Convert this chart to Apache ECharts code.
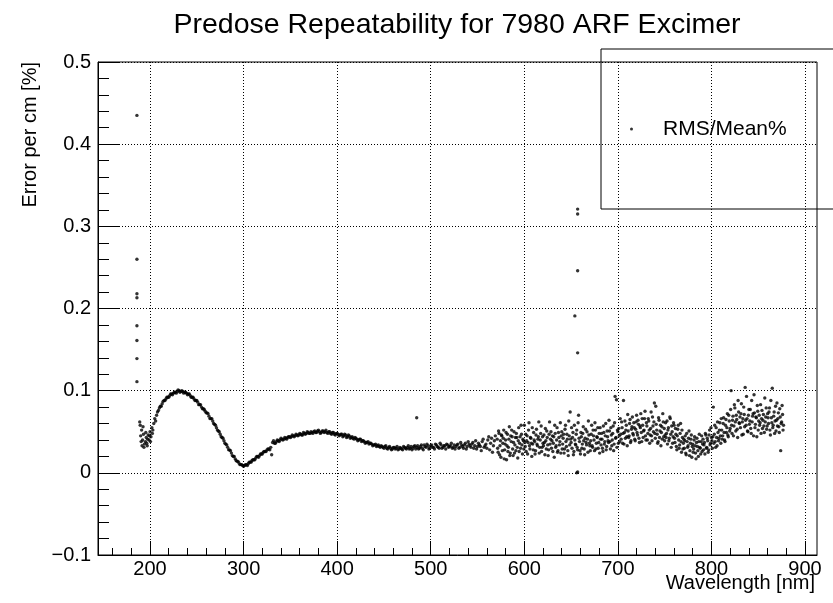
<!DOCTYPE html>
<html>
<head>
<meta charset="utf-8">
<title>Predose Repeatability</title>
<script src="https://cdn.jsdelivr.net/npm/echarts@6/dist/echarts.min.js"></script>
<style>
  html, body { margin: 0; background: #fff; }
  #chart { width: 833px; height: 603px; }
</style>
</head>
<body>
<div id="chart"></div>
<script>
"use strict";

const FONT = "Liberation Sans, Arial, Helvetica, sans-serif";

// axis ranges / ticks (wavelength in nm, error in %)
const X_MIN = 144.4, X_MAX = 912.8;
const X_MAJOR = [200, 300, 400, 500, 600, 700, 800, 900];
const X_MINOR = [160, 180, 220, 240, 260, 280, 320, 340, 360, 380, 420, 440, 460, 480,
  520, 540, 560, 580, 620, 640, 660, 680, 720, 740, 760, 780, 820, 840, 860, 880, 900];

// isolated points (edge spikes near 186 nm and 657 nm, zeros, one stray)
const spikes = [
  [186, 0.435], [186, 0.260], [186, 0.218], [186, 0.213], [186, 0.179], [186, 0.161],
  [186, 0.139], [186, 0.111],
  [657, 0.321], [657, 0.315], [657, 0.246], [654, 0.191], [657, 0.146],
  [656, 0.000], [657, 0.001], [485, 0.067],
];

// smooth part of the curve, 189..569 nm (odd wavelengths)
const band = [
  [189, 0.062], [190, 0.045], [191, 0.052], [192, 0.040], [193, 0.047], [194, 0.035],
  [195, 0.038], [196, 0.043], [197, 0.033], [198, 0.046], [199, 0.040], [200, 0.050],
  [201, 0.044], [202, 0.055], [203, 0.052], [204, 0.060], [205, 0.066], [206, 0.063],
  [207, 0.070], [209, 0.076], [211, 0.081], [213, 0.084], [215, 0.088], [217, 0.090],
  [219, 0.092], [221, 0.094], [223, 0.096], [225, 0.097], [227, 0.098], [229, 0.099],
  [231, 0.100], [233, 0.099], [235, 0.099], [237, 0.098], [239, 0.097], [241, 0.096],
  [243, 0.094], [245, 0.092], [247, 0.090], [249, 0.088], [251, 0.086], [253, 0.083],
  [255, 0.080], [257, 0.078], [259, 0.075], [261, 0.073], [263, 0.069], [265, 0.066],
  [267, 0.063], [269, 0.059], [271, 0.055], [273, 0.051], [275, 0.047], [277, 0.043],
  [279, 0.039], [281, 0.035], [283, 0.031], [285, 0.028], [287, 0.024], [289, 0.020],
  [291, 0.017], [293, 0.014], [295, 0.012], [297, 0.010], [299, 0.009], [301, 0.009],
  [303, 0.010], [305, 0.011], [307, 0.013], [309, 0.015], [311, 0.016], [313, 0.018],
  [315, 0.020], [317, 0.021], [319, 0.023], [321, 0.025], [323, 0.026], [325, 0.028],
  [327, 0.029], [329, 0.031], [330, 0.022], [331, 0.037], [333, 0.036], [335, 0.038],
  [337, 0.039], [339, 0.040], [341, 0.041], [343, 0.041], [345, 0.042], [347, 0.043],
  [349, 0.044], [351, 0.044], [353, 0.045], [355, 0.045], [357, 0.046], [359, 0.046],
  [361, 0.047], [363, 0.046], [365, 0.048], [367, 0.048], [369, 0.049], [371, 0.048],
  [373, 0.049], [375, 0.050], [377, 0.049], [379, 0.051], [381, 0.050], [383, 0.049],
  [385, 0.051], [387, 0.050], [389, 0.049], [391, 0.050], [393, 0.048], [395, 0.049],
  [397, 0.047], [399, 0.048], [401, 0.047], [403, 0.046], [405, 0.047], [407, 0.045],
  [409, 0.046], [411, 0.044], [413, 0.045], [415, 0.043], [417, 0.042], [419, 0.043],
  [421, 0.041], [423, 0.040], [425, 0.041], [427, 0.039], [429, 0.038], [431, 0.037],
  [433, 0.038], [435, 0.036], [437, 0.035], [439, 0.034], [441, 0.035], [443, 0.033],
  [445, 0.032], [447, 0.033], [449, 0.031], [451, 0.032], [453, 0.030], [455, 0.031],
  [457, 0.030], [459, 0.029], [461, 0.031], [463, 0.030], [465, 0.028], [467, 0.031],
  [469, 0.029], [471, 0.032], [473, 0.030], [475, 0.031], [477, 0.029], [479, 0.032],
  [481, 0.030], [483, 0.033], [485, 0.031], [487, 0.029], [489, 0.032], [491, 0.030],
  [493, 0.034], [495, 0.031], [497, 0.033], [499, 0.030], [501, 0.034], [503, 0.031],
  [505, 0.035], [507, 0.032], [509, 0.030], [511, 0.034], [513, 0.031], [515, 0.033],
  [517, 0.035], [519, 0.031], [521, 0.033], [523, 0.030], [525, 0.034], [527, 0.032],
  [529, 0.035], [531, 0.031], [533, 0.034], [535, 0.030], [537, 0.036], [539, 0.032],
  [541, 0.035], [543, 0.031], [545, 0.037], [547, 0.033], [549, 0.029], [551, 0.036],
  [553, 0.032], [555, 0.038], [557, 0.031], [559, 0.035], [561, 0.040], [563, 0.028],
  [565, 0.042], [567, 0.033], [569, 0.045],
];

// second scan of the smooth part (even wavelengths), slightly different readings
const band2 = [
  [189.5, 0.058], [190.5, 0.038], [191.5, 0.033], [192.5, 0.056], [193.5, 0.031],
  [195.5, 0.049], [196.5, 0.036], [197.5, 0.041], [199.5, 0.045], [200.5, 0.038], [202.5, 0.048],
  [208, 0.074], [210, 0.079], [212, 0.081], [214, 0.087], [216, 0.088], [218, 0.092],
  [220, 0.092], [222, 0.096], [224, 0.095], [226, 0.098], [228, 0.097], [230, 0.101],
  [232, 0.098], [234, 0.100], [236, 0.097], [238, 0.098], [240, 0.095], [242, 0.096],
  [244, 0.092], [246, 0.092], [248, 0.088], [250, 0.088], [252, 0.083], [254, 0.083],
  [256, 0.078], [258, 0.077], [260, 0.073], [262, 0.072], [264, 0.066], [266, 0.066],
  [268, 0.060], [270, 0.058], [272, 0.052], [274, 0.050], [276, 0.044], [278, 0.042],
  [280, 0.036], [282, 0.034], [284, 0.028], [286, 0.027], [288, 0.021], [290, 0.020],
  [292, 0.015], [294, 0.014], [296, 0.010], [298, 0.010], [300, 0.008], [302, 0.010],
  [304, 0.009], [306, 0.013], [308, 0.013], [310, 0.016], [312, 0.016], [314, 0.020],
  [316, 0.019], [318, 0.023], [320, 0.023], [322, 0.026], [324, 0.026], [326, 0.029],
  [328, 0.028], [332, 0.039], [334, 0.036], [336, 0.040], [338, 0.038], [340, 0.042],
  [342, 0.040], [344, 0.043], [346, 0.041], [348, 0.044], [350, 0.043], [352, 0.046],
  [354, 0.044], [356, 0.047], [358, 0.045], [360, 0.048], [362, 0.046], [364, 0.049],
  [366, 0.047], [368, 0.050], [370, 0.048], [372, 0.050], [374, 0.048], [376, 0.051],
  [378, 0.049], [380, 0.052], [382, 0.048], [384, 0.051], [386, 0.049], [388, 0.052],
  [390, 0.048], [392, 0.050], [394, 0.047], [396, 0.049], [398, 0.046], [400, 0.048],
  [402, 0.045], [404, 0.047], [406, 0.044], [408, 0.047], [410, 0.043], [412, 0.046],
  [414, 0.042], [416, 0.044], [418, 0.041], [420, 0.042], [422, 0.039], [424, 0.041],
  [426, 0.038], [428, 0.039], [430, 0.036], [432, 0.037], [434, 0.035], [436, 0.036],
  [438, 0.033], [440, 0.034], [442, 0.032], [444, 0.034], [446, 0.031], [448, 0.032],
  [450, 0.030], [452, 0.033], [454, 0.029], [456, 0.032], [458, 0.028], [460, 0.031],
  [462, 0.029], [464, 0.032], [466, 0.029], [468, 0.030], [470, 0.028], [472, 0.031],
  [474, 0.029], [476, 0.033], [478, 0.030], [480, 0.028], [482, 0.032], [484, 0.029],
  [486, 0.033], [488, 0.030], [490, 0.034], [492, 0.028], [494, 0.032], [496, 0.035],
  [498, 0.029], [500, 0.033], [502, 0.031], [504, 0.029], [506, 0.034], [508, 0.031],
  [510, 0.036], [512, 0.030], [514, 0.033], [516, 0.029], [518, 0.034], [520, 0.032],
  [522, 0.036], [524, 0.031], [526, 0.029], [528, 0.034], [530, 0.030], [532, 0.037],
  [534, 0.032], [536, 0.034], [538, 0.029], [540, 0.038], [542, 0.033], [544, 0.035],
  [546, 0.030], [548, 0.039], [550, 0.032], [552, 0.034], [554, 0.027], [556, 0.041],
  [558, 0.033], [560, 0.030], [562, 0.044], [564, 0.036], [566, 0.025], [568, 0.039],
];

// noisy tail, 571..877 nm
const noisy = [
  [571, 0.041], [572, 0.025], [573, 0.048], [574, 0.033], [575, 0.019], [576, 0.045], [577, 0.036], [578, 0.052], [579, 0.028], [580, 0.040],
  [581, 0.016], [582, 0.047], [583, 0.031], [584, 0.056], [585, 0.024], [586, 0.038], [587, 0.044], [588, 0.021], [589, 0.050], [590, 0.034],
  [591, 0.027], [592, 0.043], [593, 0.018], [594, 0.055], [595, 0.036], [596, 0.030], [597, 0.047], [598, 0.023], [599, 0.039], [600, 0.058],
  [601, 0.032], [602, 0.026], [603, 0.045], [604, 0.037], [605, 0.061], [606, 0.029], [607, 0.042], [608, 0.020], [609, 0.035], [610, 0.049],
  [611, 0.038], [612, 0.027], [613, 0.053], [614, 0.033], [615, 0.044], [616, 0.024], [617, 0.040], [618, 0.057], [619, 0.031], [620, 0.036],
  [621, 0.046], [622, 0.022], [623, 0.039], [624, 0.051], [625, 0.034], [626, 0.028], [627, 0.062], [628, 0.041], [629, 0.030], [630, 0.045],
  [631, 0.036], [632, 0.019], [633, 0.048], [634, 0.033], [635, 0.055], [636, 0.027], [637, 0.043], [638, 0.038], [639, 0.024], [640, 0.050],
  [641, 0.035], [642, 0.047], [643, 0.029], [644, 0.058], [645, 0.032], [646, 0.041], [647, 0.021], [648, 0.045], [649, 0.074], [650, 0.037],
  [651, 0.030], [652, 0.049], [653, 0.026], [654, 0.040], [655, 0.034], [656, 0.052], [657, 0.028], [658, 0.070], [659, 0.038], [660, 0.023],
  [661, 0.044], [662, 0.035], [663, 0.056], [664, 0.029], [665, 0.042], [666, 0.037], [667, 0.050], [668, 0.025], [669, 0.046], [670, 0.033],
  [671, 0.039], [672, 0.058], [673, 0.031], [674, 0.045], [675, 0.027], [676, 0.052], [677, 0.036], [678, 0.043], [679, 0.030], [680, 0.048],
  [681, 0.055], [682, 0.034], [683, 0.041], [684, 0.026], [685, 0.049], [686, 0.038], [687, 0.060], [688, 0.032], [689, 0.044], [690, 0.037],
  [691, 0.051], [692, 0.029], [693, 0.046], [694, 0.040], [695, 0.057], [696, 0.035], [697, 0.093], [698, 0.043], [699, 0.031], [700, 0.050],
  [701, 0.054], [702, 0.038], [703, 0.047], [704, 0.062], [705, 0.036], [706, 0.088], [707, 0.049], [708, 0.042], [709, 0.058], [710, 0.033],
  [711, 0.051], [712, 0.045], [713, 0.065], [714, 0.039], [715, 0.056], [716, 0.048], [717, 0.061], [718, 0.041], [719, 0.053], [720, 0.070],
  [721, 0.046], [722, 0.059], [723, 0.037], [724, 0.055], [725, 0.049], [726, 0.066], [727, 0.043], [728, 0.052], [729, 0.075], [730, 0.040],
  [731, 0.057], [732, 0.048], [733, 0.063], [734, 0.036], [735, 0.054], [736, 0.045], [737, 0.068], [738, 0.050], [739, 0.085], [740, 0.042],
  [741, 0.059], [742, 0.047], [743, 0.038], [744, 0.064], [745, 0.051], [746, 0.033], [747, 0.056], [748, 0.072], [749, 0.044], [750, 0.039],
  [751, 0.061], [752, 0.048], [753, 0.035], [754, 0.055], [755, 0.042], [756, 0.066], [757, 0.031], [758, 0.050], [759, 0.044], [760, 0.058],
  [761, 0.037], [762, 0.047], [763, 0.028], [764, 0.053], [765, 0.040], [766, 0.034], [767, 0.060], [768, 0.025], [769, 0.043], [770, 0.036],
  [771, 0.030], [772, 0.045], [773, 0.022], [774, 0.038], [775, 0.033], [776, 0.051], [777, 0.027], [778, 0.041], [779, 0.019], [780, 0.035],
  [781, 0.029], [782, 0.044], [783, 0.024], [784, 0.037], [785, 0.032], [786, 0.020], [787, 0.047], [788, 0.030], [789, 0.038], [790, 0.026],
  [791, 0.041], [792, 0.034], [793, 0.023], [794, 0.046], [795, 0.031], [796, 0.039], [797, 0.028], [798, 0.052], [799, 0.036], [800, 0.043],
  [801, 0.030], [802, 0.080], [803, 0.047], [804, 0.038], [805, 0.055], [806, 0.033], [807, 0.049], [808, 0.042], [809, 0.061], [810, 0.036],
  [811, 0.052], [812, 0.045], [813, 0.067], [814, 0.040], [815, 0.058], [816, 0.049], [817, 0.072], [818, 0.044], [819, 0.063], [820, 0.054],
  [821, 0.100], [822, 0.048], [823, 0.069], [824, 0.057], [825, 0.079], [826, 0.051], [827, 0.065], [828, 0.043], [829, 0.074], [830, 0.060],
  [831, 0.055], [832, 0.084], [833, 0.062], [834, 0.047], [835, 0.071], [836, 0.104], [837, 0.058], [838, 0.066], [839, 0.050], [840, 0.077],
  [841, 0.063], [842, 0.054], [843, 0.088], [844, 0.069], [845, 0.045], [846, 0.073], [847, 0.059], [848, 0.067], [849, 0.082], [850, 0.052],
  [851, 0.070], [852, 0.061], [853, 0.048], [854, 0.076], [855, 0.064], [856, 0.057], [857, 0.091], [858, 0.068], [859, 0.053], [860, 0.072],
  [861, 0.060], [862, 0.079], [863, 0.046], [864, 0.067], [865, 0.103], [866, 0.058], [867, 0.074], [868, 0.063], [869, 0.051], [870, 0.085],
  [871, 0.066], [872, 0.056], [873, 0.078], [874, 0.027], [875, 0.062], [876, 0.071], [877, 0.058],
];

// noisy tail, readings between the whole-nm ones
const noisy2 = [
  [571.5, 0.030], [572.5, 0.051], [573.5, 0.022], [574.5, 0.039], [575.5, 0.046], [576.5, 0.027], [577.5, 0.042], [578.5, 0.017], [579.5, 0.035], [580.5, 0.049],
  [581.5, 0.033], [582.5, 0.026], [583.5, 0.041], [584.5, 0.021], [585.5, 0.045], [586.5, 0.052], [587.5, 0.029], [588.5, 0.037], [589.5, 0.024], [590.5, 0.043],
  [591.5, 0.048], [592.5, 0.031], [593.5, 0.039], [594.5, 0.026], [595.5, 0.044], [596.5, 0.058], [597.5, 0.034], [598.5, 0.041], [599.5, 0.029], [600.5, 0.037],
  [601.5, 0.047], [602.5, 0.039], [603.5, 0.023], [604.5, 0.052], [605.5, 0.033], [606.5, 0.043], [607.5, 0.036], [608.5, 0.055], [609.5, 0.028], [610.5, 0.040],
  [611.5, 0.023], [612.5, 0.046], [613.5, 0.035], [614.5, 0.041], [615.5, 0.062], [616.5, 0.031], [617.5, 0.048], [618.5, 0.026], [619.5, 0.044], [620.5, 0.033],
  [621.5, 0.037], [622.5, 0.054], [623.5, 0.029], [624.5, 0.043], [625.5, 0.021], [626.5, 0.047], [627.5, 0.035], [628.5, 0.050], [629.5, 0.039], [630.5, 0.026],
  [631.5, 0.044], [632.5, 0.058], [633.5, 0.031], [634.5, 0.040], [635.5, 0.025], [636.5, 0.049], [637.5, 0.034], [638.5, 0.061], [639.5, 0.045], [640.5, 0.029],
  [641.5, 0.042], [642.5, 0.024], [643.5, 0.053], [644.5, 0.038], [645.5, 0.047], [646.5, 0.027], [647.5, 0.063], [648.5, 0.034], [649.5, 0.041], [650.5, 0.055],
  [651.5, 0.043], [652.5, 0.022], [653.5, 0.058], [654.5, 0.035], [655.5, 0.047], [656.5, 0.031], [657.5, 0.061], [658.5, 0.042], [659.5, 0.027], [660.5, 0.049],
  [661.5, 0.030], [662.5, 0.048], [663.5, 0.039], [664.5, 0.022], [665.5, 0.053], [666.5, 0.034], [667.5, 0.041], [668.5, 0.063], [669.5, 0.036], [670.5, 0.027],
  [671.5, 0.047], [672.5, 0.033], [673.5, 0.052], [674.5, 0.040], [675.5, 0.061], [676.5, 0.029], [677.5, 0.044], [678.5, 0.055], [679.5, 0.037], [680.5, 0.024],
  [681.5, 0.041], [682.5, 0.048], [683.5, 0.030], [684.5, 0.057], [685.5, 0.035], [686.5, 0.045], [687.5, 0.028], [688.5, 0.051], [689.5, 0.039], [690.5, 0.064],
  [691.5, 0.038], [692.5, 0.055], [693.5, 0.033], [694.5, 0.048], [695.5, 0.027], [696.5, 0.061], [697.5, 0.042], [698.5, 0.089], [699.5, 0.052], [700.5, 0.036],
  [701.5, 0.045], [702.5, 0.066], [703.5, 0.041], [704.5, 0.055], [705.5, 0.048], [706.5, 0.035], [707.5, 0.063], [708.5, 0.052], [709.5, 0.044], [710.5, 0.071],
  [711.5, 0.043], [712.5, 0.060], [713.5, 0.037], [714.5, 0.053], [715.5, 0.068], [716.5, 0.046], [717.5, 0.055], [718.5, 0.039], [719.5, 0.062], [720.5, 0.049],
  [721.5, 0.064], [722.5, 0.042], [723.5, 0.057], [724.5, 0.072], [725.5, 0.038], [726.5, 0.058], [727.5, 0.051], [728.5, 0.066], [729.5, 0.045], [730.5, 0.061],
  [731.5, 0.040], [732.5, 0.066], [733.5, 0.052], [734.5, 0.046], [735.5, 0.074], [736.5, 0.039], [737.5, 0.057], [738.5, 0.062], [739.5, 0.048], [740.5, 0.081],
  [741.5, 0.052], [742.5, 0.036], [743.5, 0.067], [744.5, 0.043], [745.5, 0.058], [746.5, 0.049], [747.5, 0.041], [748.5, 0.062], [749.5, 0.054], [750.5, 0.046],
  [751.5, 0.043], [752.5, 0.063], [753.5, 0.052], [754.5, 0.039], [755.5, 0.068], [756.5, 0.047], [757.5, 0.057], [758.5, 0.036], [759.5, 0.061], [760.5, 0.042],
  [761.5, 0.054], [762.5, 0.032], [763.5, 0.045], [764.5, 0.058], [765.5, 0.030], [766.5, 0.048], [767.5, 0.038], [768.5, 0.052], [769.5, 0.029], [770.5, 0.041],
  [771.5, 0.039], [772.5, 0.024], [773.5, 0.048], [774.5, 0.031], [775.5, 0.042], [776.5, 0.021], [777.5, 0.036], [778.5, 0.046], [779.5, 0.032], [780.5, 0.025],
  [781.5, 0.040], [782.5, 0.033], [783.5, 0.017], [784.5, 0.042], [785.5, 0.027], [786.5, 0.038], [787.5, 0.031], [788.5, 0.023], [789.5, 0.045], [790.5, 0.035],
  [791.5, 0.028], [792.5, 0.037], [793.5, 0.048], [794.5, 0.030], [795.5, 0.042], [796.5, 0.025], [797.5, 0.046], [798.5, 0.034], [799.5, 0.055], [800.5, 0.039],
  [801.5, 0.044], [802.5, 0.036], [803.5, 0.058], [804.5, 0.031], [805.5, 0.043], [806.5, 0.062], [807.5, 0.039], [808.5, 0.052], [809.5, 0.045], [810.5, 0.066],
  [811.5, 0.041], [812.5, 0.060], [813.5, 0.049], [814.5, 0.038], [815.5, 0.065], [816.5, 0.055], [817.5, 0.046], [818.5, 0.070], [819.5, 0.051], [820.5, 0.077],
  [821.5, 0.058], [822.5, 0.064], [823.5, 0.045], [824.5, 0.083], [825.5, 0.062], [826.5, 0.070], [827.5, 0.053], [828.5, 0.088], [829.5, 0.061], [830.5, 0.068],
  [831.5, 0.072], [832.5, 0.046], [833.5, 0.066], [834.5, 0.080], [835.5, 0.056], [836.5, 0.064], [837.5, 0.093], [838.5, 0.051], [839.5, 0.070], [840.5, 0.059],
  [841.5, 0.077], [842.5, 0.048], [843.5, 0.062], [844.5, 0.072], [845.5, 0.095], [846.5, 0.055], [847.5, 0.068], [848.5, 0.044], [849.5, 0.075], [850.5, 0.063],
  [851.5, 0.058], [852.5, 0.083], [853.5, 0.066], [854.5, 0.054], [855.5, 0.071], [856.5, 0.049], [857.5, 0.062], [858.5, 0.079], [859.5, 0.057], [860.5, 0.067],
  [861.5, 0.074], [862.5, 0.052], [863.5, 0.088], [864.5, 0.061], [865.5, 0.055], [866.5, 0.069], [867.5, 0.048], [868.5, 0.081], [869.5, 0.064], [870.5, 0.057],
  [871.5, 0.073], [872.5, 0.049], [873.5, 0.068], [874.5, 0.060], [875.5, 0.082], [876.5, 0.052],
];

const SERIES_NAME = "RMS/Mean%";
const TITLE = "Predose Repeatability for 7980 ARF Excimer";
const X_TITLE = "Wavelength [nm]";
const Y_TITLE = "Error per cm [%]";

const chart = echarts.init(document.getElementById("chart"), null, { renderer: "canvas" });

const dotted = { type: [1, 2], color: "#000", width: 1 };

chart.setOption({
  animation: false,
  backgroundColor: "#fff",
  title: {
    text: TITLE, left: 452, top: 6, textAlign: "center",
    textStyle: { fontFamily: FONT, fontSize: 28.5, fontWeight: "normal", color: "#000" },
  },
  legend: {
    left: 601, top: 49,
    padding: [69, 60, 69, 29],
    borderColor: "#000", borderWidth: 1,
    itemWidth: 3, itemHeight: 3,
    data: [{ name: SERIES_NAME, icon: "circle" }],
    textStyle: { fontFamily: FONT, fontSize: 21, color: "#000", lineHeight: 22, padding: [0, 0, 0, 25] },
  },
  graphic: [{
    type: "text", right: 18, top: 573, silent: true,
    style: { text: X_TITLE, font: "20px " + FONT, fill: "#000" },
  }],
  grid: {
    left: 98, top: 62, width: 719, height: 493,
    outerBoundsMode: "none",
    show: true, borderColor: "#000", borderWidth: 1,
  },
  xAxis: [
    {
      type: "value", position: "bottom", min: X_MIN, max: X_MAX,
      axisLine: { onZero: false, lineStyle: { color: "#000", width: 1 } },
      axisTick: { inside: true, length: 14, customValues: X_MAJOR, lineStyle: { color: "#000" } },
      axisLabel: { customValues: X_MAJOR, color: "#000", fontFamily: FONT, fontSize: 20, margin: 4 },
      splitLine: { show: true, lineStyle: dotted },
    },
    {
      type: "value", position: "bottom", min: X_MIN, max: X_MAX,
      axisLine: { show: false, onZero: false },
      axisTick: { inside: true, length: 7, customValues: X_MINOR, lineStyle: { color: "#000" } },
      axisLabel: { show: false },
      splitLine: { show: false },
    },
  ],
  yAxis: {
    type: "value", min: -0.1, max: 0.5, interval: 0.1,
    axisLine: { show: true, onZero: false, lineStyle: { color: "#000", width: 1 } },
    axisTick: { show: true, inside: true, length: 21, lineStyle: { color: "#000" } },
    minorTick: { show: true, splitNumber: 5, length: 11, lineStyle: { color: "#000" } },
    axisLabel: {
      color: "#000", fontFamily: FONT, fontSize: 20, margin: 7,
      formatter: v => String(+v.toFixed(1)).replace("-", "\u2212"),
    },
    splitLine: { show: true, lineStyle: dotted },
    name: Y_TITLE, nameLocation: "end", nameRotate: 90, nameGap: 0,
    nameTextStyle: {
      fontFamily: FONT, fontSize: 20, color: "#000",
      align: "right", verticalAlign: "bottom", padding: [0, 0, 58, 0],
    },
  },
  series: [{
    name: SERIES_NAME, type: "scatter", xAxisIndex: 0, yAxisIndex: 0,
    symbol: "circle", symbolSize: 3.4, silent: true,
    itemStyle: { color: "#000" },
    data: [...spikes, ...band, ...band2, ...noisy, ...noisy2],
  }],
});
</script>
</body>
</html>
